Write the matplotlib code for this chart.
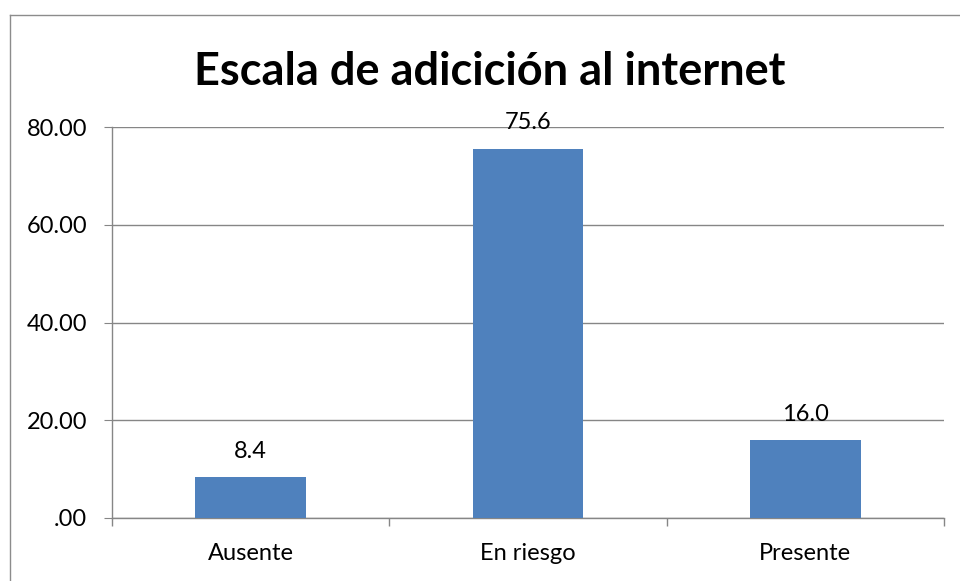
import matplotlib
matplotlib.use("Agg")
import matplotlib.pyplot as plt
from matplotlib.lines import Line2D
import numpy as np

categories = ["Ausente", "En riesgo", "Presente"]
values = [8.4, 75.6, 16.0]
yticks = [0, 20, 40, 60, 80]
ytick_labels = [".00", "20.00", "40.00", "60.00", "80.00"]
title = "Escala de adicición al internet"

plt.rcParams['font.family'] = ['Lato', 'DejaVu Sans']

W, H = 960, 581
fig = plt.figure(figsize=(W / 100, H / 100), dpi=100)
ax = fig.add_axes([112 / W, 1 - 518 / H, (944 - 112) / W, (518 - 127) / H])

grid_c = "#868686"
bar_c = "#4F81BD"

x = np.arange(len(categories))
bars = ax.bar(x, values, width=0.4, color=bar_c, zorder=3)
ax.set_xlim(-0.5, len(categories) - 0.5)
ax.set_ylim(0, 80)

ax.set_yticks(yticks)
ax.set_yticklabels(ytick_labels)
ax.set_xticks(x)
ax.set_xticklabels(categories)
ax.set_xticks(np.arange(-0.5, len(categories)), minor=True)

ax.yaxis.grid(True, color=grid_c, linewidth=1.0, zorder=0)
ax.set_axisbelow(True)

for s in ["top", "right"]:
    ax.spines[s].set_visible(False)
for s in ["left", "bottom"]:
    ax.spines[s].set_color(grid_c)
    ax.spines[s].set_linewidth(1.0)

fs = 17
ax.tick_params(axis='y', length=6, color=grid_c, pad=12, labelsize=fs, labelcolor="black")
ax.tick_params(axis='x', which='major', length=0, pad=18, labelsize=fs, labelcolor="black")
ax.tick_params(axis='x', which='minor', length=6, color=grid_c, width=1.0)

for xi, v in zip(x, values):
    ax.annotate(f"{v:.1f}", (xi, v), xytext=(0, 11), textcoords="offset points",
                ha="center", va="bottom", fontsize=fs)

fig.text(490 / W, 1 - 72 / H, title, ha="center", va="center",
         fontsize=32.5, fontweight="bold")

# outer chart border
bc = "#8C8C8C"
fig.add_artist(Line2D([10 / W, 10 / W], [0, 1 - 15 / H], color=bc, lw=1.0, transform=fig.transFigure))
fig.add_artist(Line2D([10 / W, 1], [1 - 15 / H, 1 - 15 / H], color=bc, lw=1.0, transform=fig.transFigure))

fig.savefig("out.png", dpi=100)
